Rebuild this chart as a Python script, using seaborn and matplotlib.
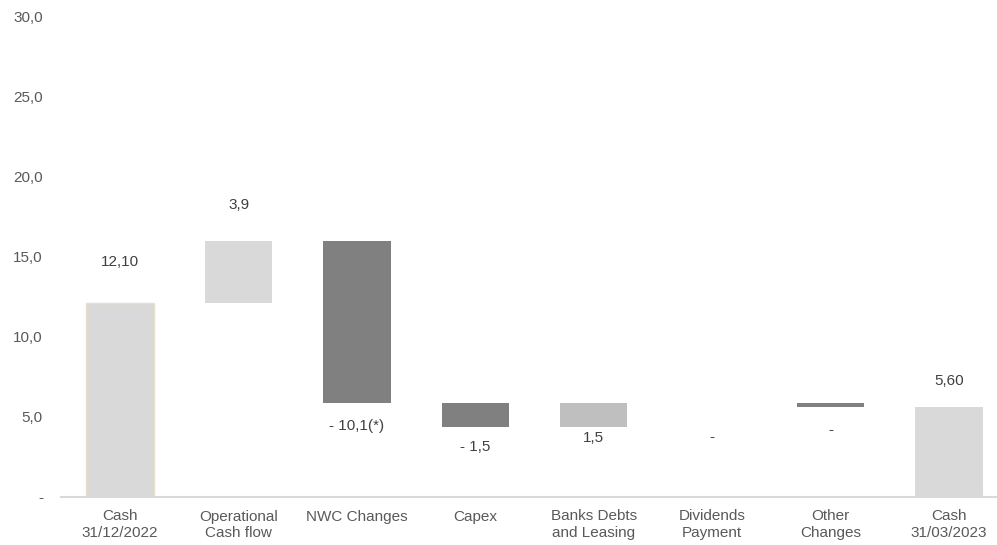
import matplotlib
matplotlib.use("Agg")
import matplotlib.pyplot as plt
import seaborn as sns
import numpy as np
import pandas as pd

# ---- data ----
categories = ["Cash\n31/12/2022", "Operational\nCash flow", "NWC Changes", "Capex",
              "Banks Debts\nand Leasing", "Dividends\nPayment", "Other\nChanges", "Cash\n31/03/2023"]
kinds = ["total", "delta", "delta", "delta", "delta", "delta", "delta", "total"]
values = [12.10, 3.9, -10.1, -1.5, 1.5, 0.0, -0.3, 5.60]
value_labels = ["12,10", "3,9", "- 10,1(*)", "- 1,5", "1,5", "-", "-", "5,60"]
bar_colors = ["#d9d9d9", "#d9d9d9", "#808080", "#808080", "#bfbfbf", "#808080", "#808080", "#d9d9d9"]
y_ticks = [0, 5, 10, 15, 20, 25, 30]

# waterfall geometry from values
bottoms, heights, ends = [], [], []
running = 0.0
for k, v in zip(kinds, values):
    if k == "total":
        bottoms.append(0.0); heights.append(v); running = v
        ends.append((0.0, v))
    else:
        start = running
        running = running + v
        bottoms.append(min(start, running)); heights.append(abs(v))
        ends.append((min(start, running), max(start, running)))

df = pd.DataFrame({"cat": categories, "h": heights})

sns.set_theme(style="white")
plt.rcParams["font.family"] = ["Liberation Sans", "DejaVu Sans"]

FS = 11
fig = plt.figure(figsize=(9.97, 5.45), dpi=100)
ax = fig.add_axes([61 / 997, 48 / 545, 947 / 997, 480 / 545])

sns.barplot(data=df, x="cat", y="h", bottom=bottoms, width=0.57, ax=ax,
            color="#d9d9d9", linewidth=0, saturation=1)

for p, c in zip(ax.patches, bar_colors):
    p.set_facecolor(c)
    p.set_edgecolor("none")
ax.patches[0].set_edgecolor("#e6e0c8")
ax.patches[0].set_linewidth(1.0)

# value labels: offsets (points) relative to top (positive) or bottom (negative) of bar
label_offsets = [30, 26, -17, -15, -8, -25, -16, 19]
for i, (lbl, (lo, hi), off) in enumerate(zip(value_labels, ends, label_offsets)):
    base = hi if off > 0 else lo
    ax.annotate(lbl, xy=(i, base), xytext=(0, off), textcoords="offset points",
                ha="center", va="center", fontsize=FS, color="#404040")

ax.set_ylim(0, 30)
ax.set_xlim(-0.5, 7.5)
ax.set_yticks(y_ticks)
ax.set_yticklabels(["-" if t == 0 else f"{t:.1f}".replace(".", ",") for t in y_ticks])
ax.tick_params(axis="y", length=0, pad=13, labelsize=FS, labelcolor="#595959")
ax.tick_params(axis="x", which="major", length=0, pad=9, labelsize=FS, labelcolor="#595959")
ax.set_xticks(np.arange(-0.5, 8, 1.0), minor=True)
ax.tick_params(axis="x", which="minor", length=4, width=1, color="#d9d9d9", direction="out")
for lab in ax.get_xticklabels():
    lab.set_linespacing(1.25)
ax.set_xlabel("")
ax.set_ylabel("")
for s in ["left", "top", "right"]:
    ax.spines[s].set_visible(False)
ax.spines["bottom"].set_color("#d9d9d9")
ax.spines["bottom"].set_linewidth(1.5)
ax.grid(False)

fig.savefig("out.png", dpi=100)
